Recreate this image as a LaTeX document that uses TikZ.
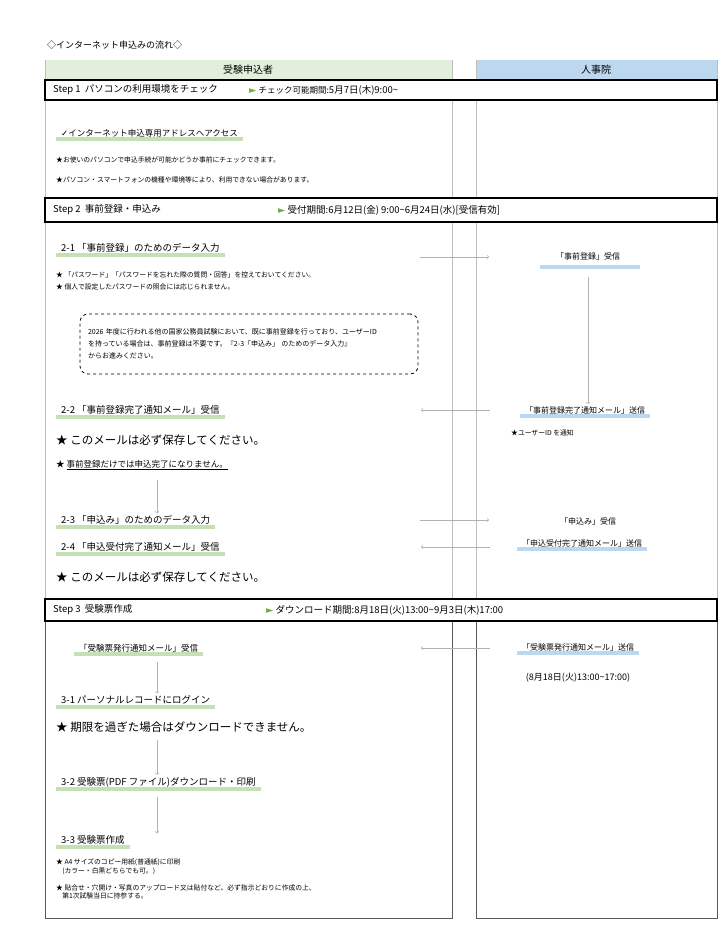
\documentclass[tikz,border=0pt]{standalone}
\usepackage{fontspec}
\setmainfont{Noto Sans CJK JP}
\newfontfamily\symfont{DejaVu Sans}
\usetikzlibrary{arrows,backgrounds}
\definecolor{hdgreen}{RGB}{226,239,218}
\definecolor{hdblue}{RGB}{189,215,238}
\definecolor{bargreen}{RGB}{197,224,180}
\definecolor{barblue}{RGB}{189,215,238}
\definecolor{linegray}{RGB}{190,190,190}
\definecolor{tipgreen}{RGB}{112,173,71}
\newcommand{\tld}{\textasciitilde}
\newcommand{\gbar}[1]{\fill[bargreen] ([xshift=-4pt,yshift=-3pt]#1.south west) rectangle ([xshift=4pt,yshift=1pt]#1.south east);}
\newcommand{\bbar}[1]{\fill[barblue] ([xshift=-4pt,yshift=-3pt]#1.south west) rectangle ([xshift=4pt,yshift=1pt]#1.south east);}
\begin{document}
\begin{tikzpicture}[x=1pt,y=-1pt,>=to,
    head node/.style={anchor=west,inner sep=1pt,font=\fontsize{9.5}{11}\selectfont},
    note node/.style={anchor=west,inner sep=1pt,font=\fontsize{6.8}{8.5}\selectfont,align=left},
    big node/.style={anchor=west,inner sep=1pt,font=\fontsize{11.5}{13}\selectfont},
    right node/.style={inner sep=1pt,font=\fontsize{8}{10}\selectfont},
    step node/.style={anchor=west,inner sep=1pt,font=\fontsize{9.5}{11}\selectfont},
    flow/.style={->,draw=gray!60,semithick,shorten >=1pt}]
  \useasboundingbox (0,0) rectangle (724,946);
  \node[anchor=west,inner sep=0pt,font=\fontsize{9}{11}\selectfont] (title) at (47,45) {◇インターネット申込みの流れ◇};
  % column heads
  \fill[hdgreen] (45,60) rectangle (452,80);
  \fill[hdblue] (476,60) rectangle (717,80);
  \node[font=\fontsize{10}{12}\selectfont] (applicant) at (248,70) {受験申込者};
  \node[font=\fontsize{10}{12}\selectfont] (office) at (596,70) {人事院};
  % column outlines
  \draw[linegray] (45,60) -- (45,600) (452,60) -- (452,600) (476,60) -- (476,600) (717,60) -- (717,600);
  \draw[gray!70!black] (45,620) rectangle (452,918) (476,620) rectangle (717,918);
  % step boxes
  \draw[very thick,fill=white] (45,80) rectangle (717,100);
  \node[step node] (s1) at (52,90) {Step 1\ \ パソコンの利用環境をチェック};
  \node[step node] (s1t) at (248,90) {\textcolor{tipgreen}{\symfont ►}\ {\fontsize{8.5}{10}\selectfont チェック可能期間:}5月7日(木)9:00\tld};
  \draw[very thick,fill=white] (45,198) rectangle (717,222);
  \node[step node] (s2) at (52,210) {Step 2\ \ 事前登録・申込み};
  \node[step node] (s2t) at (277,210) {\textcolor{tipgreen}{\symfont ►}\ 受付期間:6月12日(金)\ 9:00\tld 6月24日(水)[受信有効]};
  \draw[very thick,fill=white] (45,599) rectangle (717,621);
  \node[step node] (s3) at (52,610) {Step 3\ \ 受験票作成};
  \node[step node] (s3t) at (265,610) {\textcolor{tipgreen}{\symfont ►}\ ダウンロード期間:8月18日(火)13:00\tld 9月3日(木)17:00};
  % step 1
  \node[head node,font=\fontsize{8.5}{10}\selectfont] (access) at (60,133) {{\symfont ✓}インターネット申込専用アドレスへアクセス};
  \node[note node] (n11) at (55,160) {★お使いのパソコンで申込手続が可能かどうか事前にチェックできます。};
  \node[note node] (n12) at (55,180) {★パソコン・スマートフォンの機種や環境等により、利用できない場合があります。};
  % step 2
  \node[head node] (d21) at (60,248) {2-1 「事前登録」のためのデータ入力};
  \node[note node] (n21) at (55,275) {★ 「パスワード」「パスワードを忘れた際の質問・回答」を控えておいてください。};
  \node[note node] (n22) at (55,287) {★ 個人で設定したパスワードの照会には応じられません。};
  \node[draw,dashed,thick,rounded corners=8pt,minimum width=338pt,minimum height=60pt,text width=322pt,font=\fontsize{7}{12}\selectfont,align=left] (memo) at (249,344) {2026 年度に行われる他の国家公務員試験において、既に事前登録を行っており、ユーザーID を持っている場合は、事前登録は不要です。『2-3「申込み」 のためのデータ入力』 からお進みください。};
  \node[head node] (d22) at (60,410) {2-2 「事前登録完了通知メール」受信};
  \node[big node] (b21) at (55,440) {★ このメールは必ず保存してください。};
  \node[note node,font=\fontsize{8.5}{10}\selectfont] (b22) at (55,465) {★ \underline{事前登録だけでは申込完了になりません。}};
  \node[head node] (d23) at (60,520) {2-3 「申込み」のためのデータ入力};
  \node[head node] (d24) at (60,547) {2-4 「申込受付完了通知メール」受信};
  \node[big node] (b23) at (55,577) {★ このメールは必ず保存してください。};
  \node[right node] (r21) at (588,256) {「事前登録」受信};
  \node[right node] (r22) at (585,410) {「事前登録完了通知メール」送信};
  \node[note node] (r22n) at (510,433) {★ユーザーID を通知};
  \node[right node] (r23) at (588,521) {「申込み」受信};
  \node[right node] (r24) at (582,543) {「申込受付完了通知メール」送信};
  % step 3
  \node[head node,font=\fontsize{8.5}{10}\selectfont] (d30) at (78,648) {「受験票発行通知メール」受信};
  \node[right node] (r30) at (578,647) {「受験票発行通知メール」送信};
  \node[right node,font=\fontsize{9}{11}\selectfont] (r30n) at (578,678) {(8月18日(火)13:00\tld 17:00)};
  \node[head node] (d31) at (60,700) {3-1 パーソナルレコードにログイン};
  \node[big node] (b31) at (55,727) {★ 期限を過ぎた場合はダウンロードできません。};
  \node[head node] (d32) at (60,782) {3-2 受験票(PDF ファイル)ダウンロード・印刷};
  \node[head node] (d33) at (60,840) {3-3 受験票作成};
  \node[note node] (n31) at (55,867) {★ A4 サイズのコピー用紙(普通紙)に印刷\\\ \ \ \ (カラー・白黒どちらでも可。)};
  \node[note node] (n32) at (55,892) {★ 貼合せ・穴開け・写真のアップロード又は貼付など、必ず指示どおりに作成の上、\\\ \ \ \ 第1次試験当日に持参する。};
  \begin{scope}[on background layer]
    \gbar{access} \gbar{d21} \gbar{d22} \gbar{d23} \gbar{d24} \gbar{d30} \gbar{d31} \gbar{d32} \gbar{d33}
    \fill[barblue] (540,265) rectangle (640,269);
    \bbar{r22} \bbar{r24} \bbar{r30}
  \end{scope}
  % connectors
  \coordinate (l1) at (420,257); \coordinate (m1) at (490,257);
  \coordinate (l2) at (420,410); \coordinate (m2) at (490,410);
  \coordinate (l3) at (420,520); \coordinate (m3) at (490,520);
  \coordinate (l4) at (420,547); \coordinate (m4) at (490,547);
  \coordinate (l5) at (420,648); \coordinate (m5) at (490,648);
  \draw[flow] (l1) -- (m1);
  \draw[flow] (m2) -- (l2);
  \draw[flow] (l3) -- (m3);
  \draw[flow] (m4) -- (l4);
  \draw[flow] (m5) -- (l5);
  \draw[flow] (588,277) -- (r22.north -| 588,0);
  \draw[flow] (157,480) -- (d23.north -| 157,0);
  \draw[flow] (157,662) -- (d31.north -| 157,0);
  \draw[flow] (157,740) -- (d32.north -| 157,0);
  \draw[flow] (157,797) -- (d33.north -| 157,0);
\end{tikzpicture}
\end{document}
